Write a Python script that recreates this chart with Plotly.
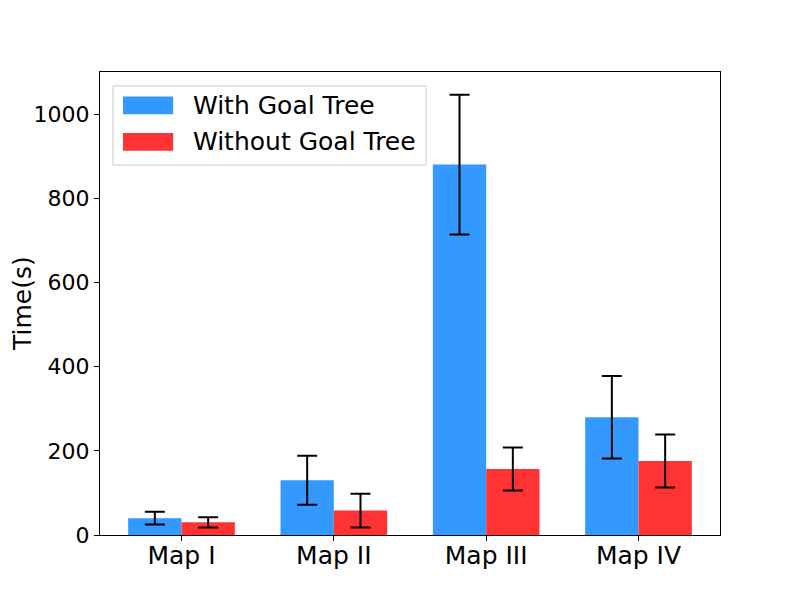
import plotly.graph_objects as go

# values
maps = ["Map I", "Map II", "Map III", "Map IV"]
with_tree = [40, 130, 880, 280]
with_tree_err = [15, 58, 166, 98]
without_tree = [30, 58, 157, 176]
without_tree_err = [12, 40, 51, 63]

blue = "#3399ff"
red = "#ff3333"
font = "DejaVu Sans"

fig = go.Figure()
fig.add_trace(go.Bar(x=maps, y=with_tree, name="With Goal Tree", marker_color=blue,
                     marker_line_width=0,
                     error_y=dict(type="data", array=with_tree_err, color="black",
                                  thickness=2, width=10)))
fig.add_trace(go.Bar(x=maps, y=without_tree, name="Without Goal Tree", marker_color=red,
                     marker_line_width=0,
                     error_y=dict(type="data", array=without_tree_err, color="black",
                                  thickness=2, width=10)))

# legend drawn by hand to get matplotlib-style wide patches
fig.add_shape(type="rect", xref="x domain", yref="y domain", x0=0.021, x1=0.526,
              y0=0.799, y1=0.970, line=dict(color="#cccccc", width=1), fillcolor="white",
              layer="above")
for i, (name, col) in enumerate([("With Goal Tree", blue), ("Without Goal Tree", red)]):
    yc = 0.928 - i * 0.079
    fig.add_shape(type="rect", xref="x domain", yref="y domain", x0=0.037, x1=0.118,
                  y0=yc - 0.019, y1=yc + 0.019, line_width=0, fillcolor=col, layer="above")
    fig.add_annotation(xref="x domain", yref="y domain", x=0.147, y=yc, text=name,
                       showarrow=False, xanchor="left", yanchor="middle",
                       font=dict(size=25, color="black", family=font))

# y axis title as an annotation so it sits where matplotlib put it
fig.add_annotation(xref="x domain", yref="y domain", x=-0.125, y=0.5, text="Time(s)",
                   textangle=-90, showarrow=False, xanchor="center", yanchor="middle",
                   font=dict(size=25, color="black", family=font))

# the page body adds an 8px offset, so margins are shifted to compensate
fig.update_layout(
    width=800, height=600,
    margin=dict(l=92, r=88, t=64, b=73),
    plot_bgcolor="white", paper_bgcolor="white",
    barmode="group", bargap=0.3, bargroupgap=0,
    showlegend=False,
    font=dict(family=font, color="black"),
)
fig.update_xaxes(range=[-0.535, 3.535], showline=True, linecolor="black", linewidth=1,
                 mirror=True, ticks="outside", ticklen=5, tickcolor="black",
                 tickfont=dict(size=25), showgrid=False, automargin=False,
                 ticklabelstandoff=-7)
fig.update_yaxes(range=[0, 1100], tickvals=[0, 200, 400, 600, 800, 1000],
                 showline=True, linecolor="black", linewidth=1, mirror=True,
                 ticks="outside", ticklen=5, tickcolor="black", tickfont=dict(size=22),
                 showgrid=False, zeroline=False, automargin=False)

fig.write_html("out.html")
